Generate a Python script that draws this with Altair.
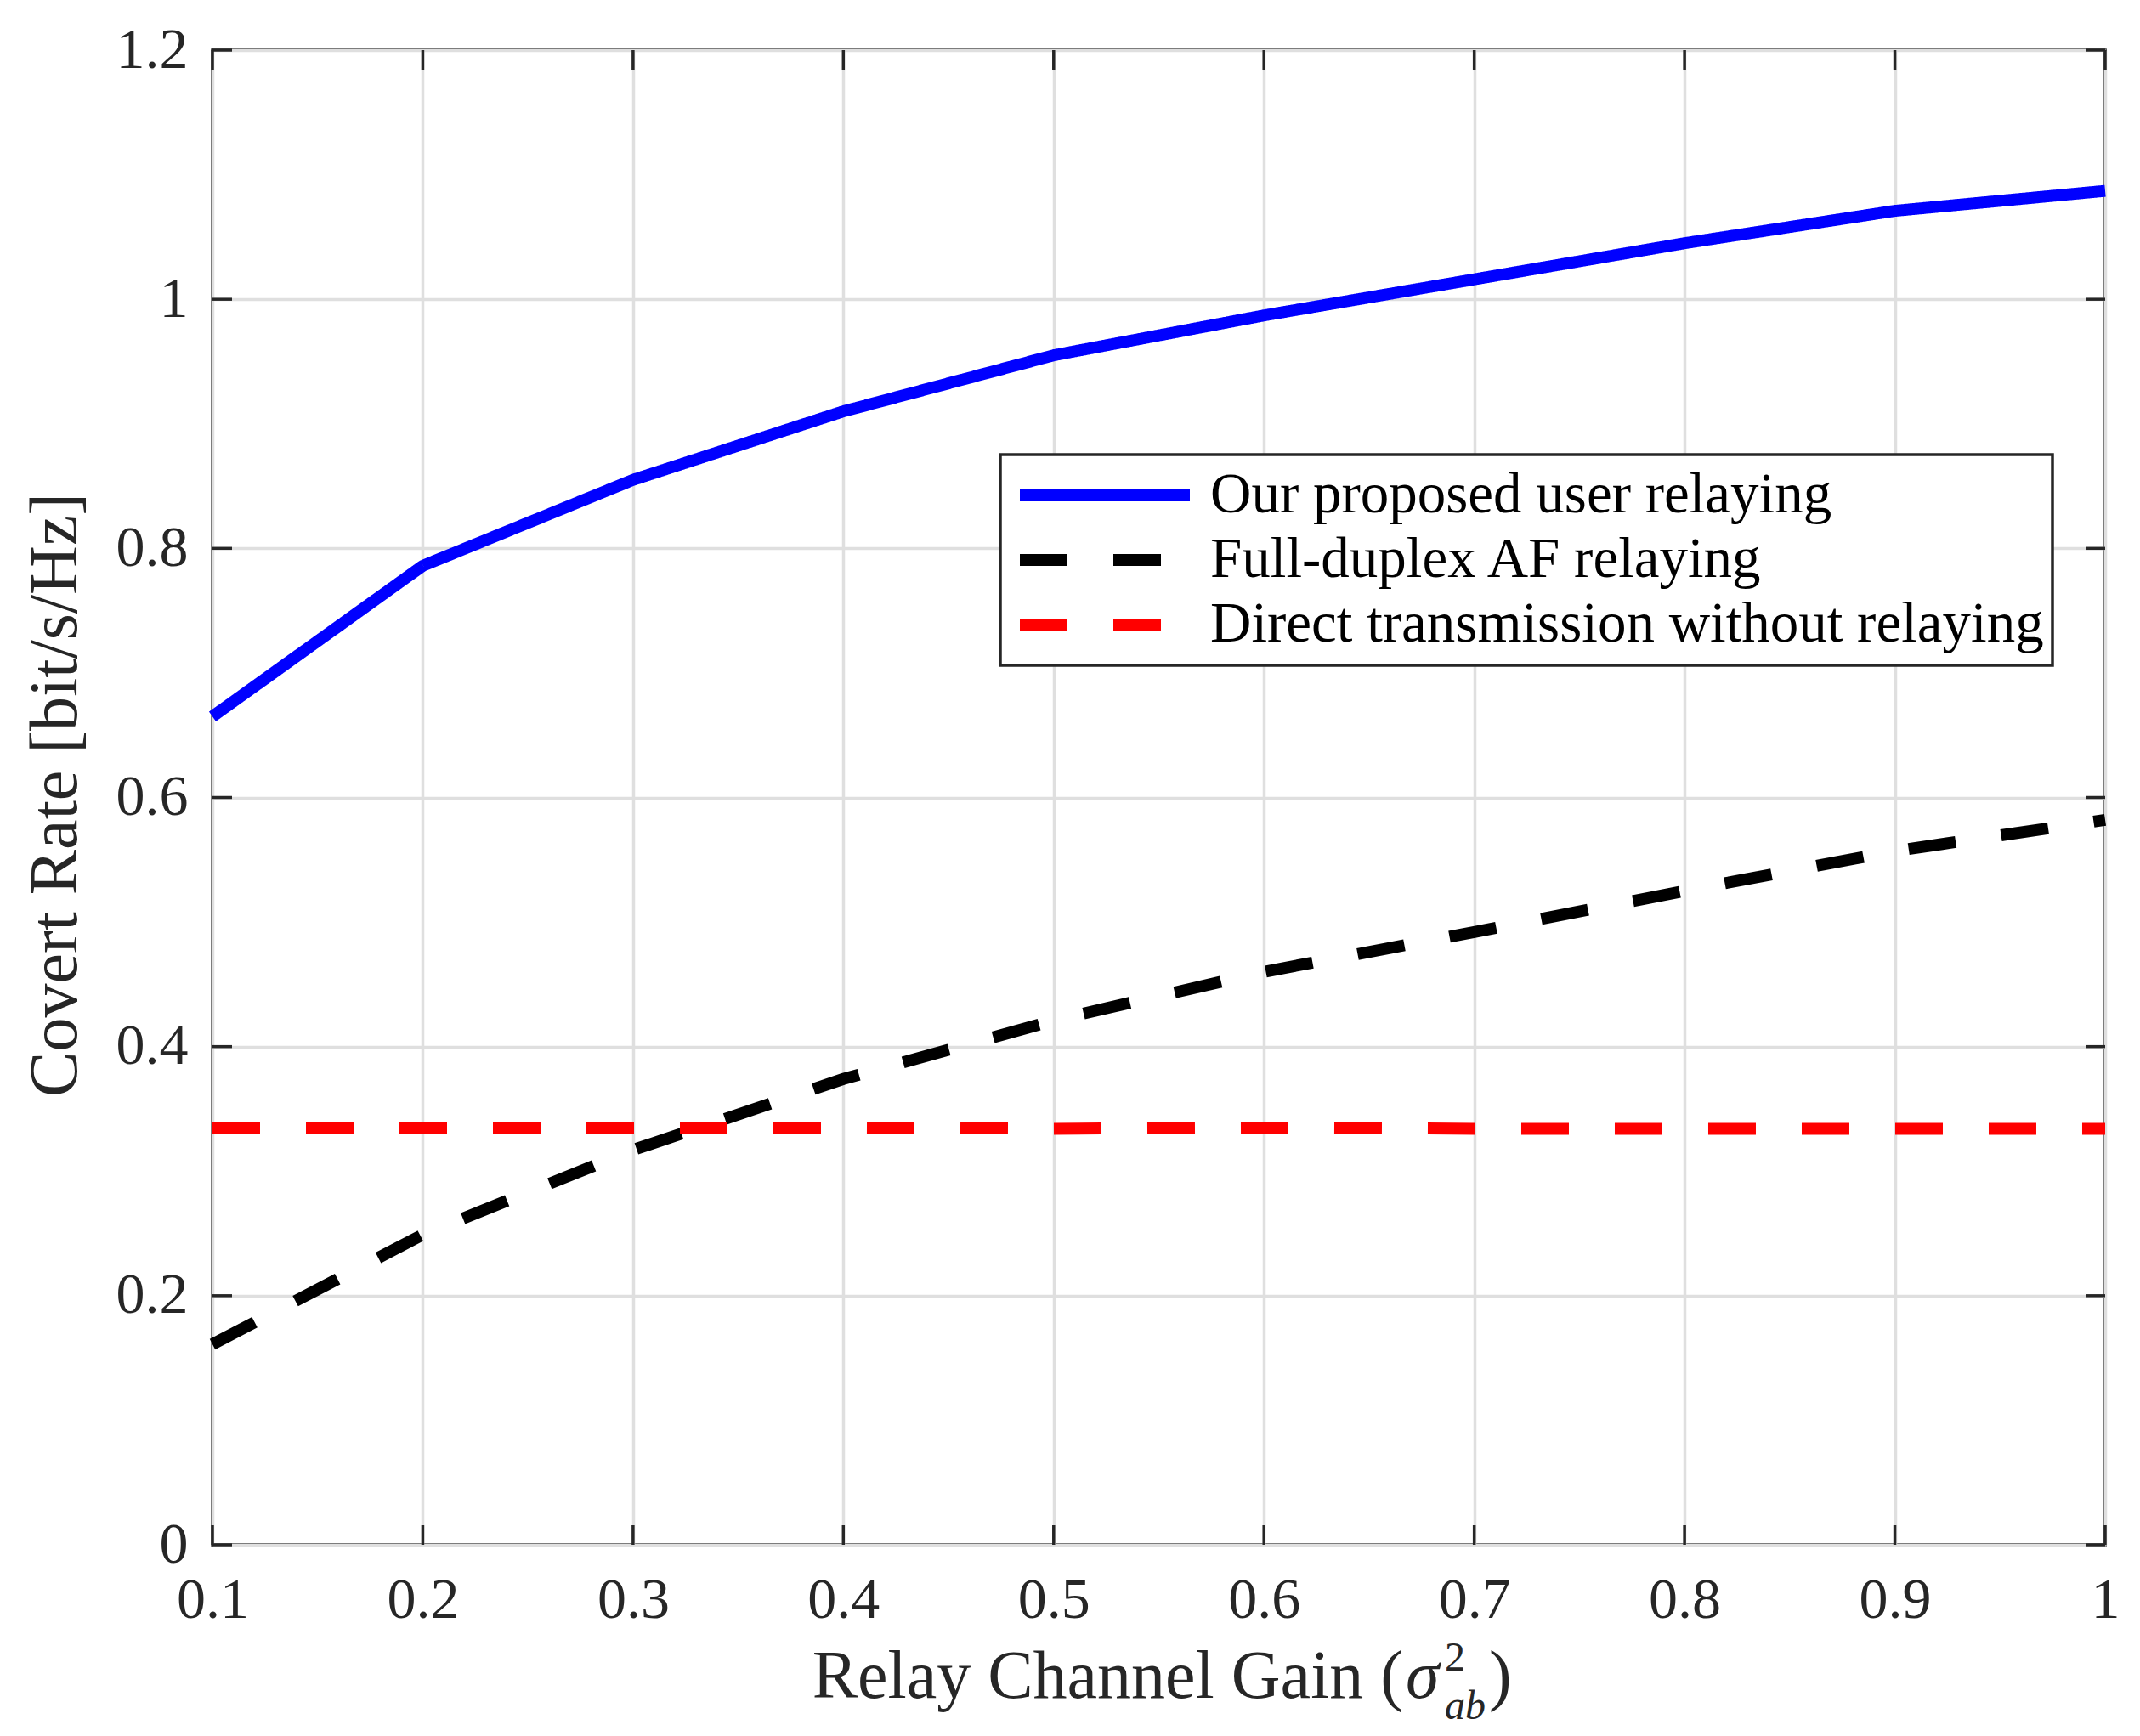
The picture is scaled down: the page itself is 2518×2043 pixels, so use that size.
import altair as alt
import pandas as pd

# ---- data ----
gains = [0.1, 0.2, 0.3, 0.4, 0.5, 0.6, 0.7, 0.8, 0.9, 1.0]
proposed = [0.665, 0.786, 0.855, 0.910, 0.955, 0.987, 1.016, 1.045, 1.071, 1.087]
full_duplex = [0.161, 0.249, 0.317, 0.374, 0.421, 0.460, 0.492, 0.525, 0.557, 0.582]
direct = [0.335, 0.335, 0.335, 0.335, 0.334, 0.335, 0.334, 0.334, 0.334, 0.334]

series_names = [
    "Our proposed user relaying",
    "Full-duplex AF relaying",
    "Direct transmission without relaying",
]
x_ticks = [0.1, 0.2, 0.3, 0.4, 0.5, 0.6, 0.7, 0.8, 0.9, 1.0]
y_ticks = [0, 0.2, 0.4, 0.6, 0.8, 1.0, 1.2]

rows = []
for name, vals in zip(series_names, [proposed, full_duplex, direct]):
    for g, v in zip(gains, vals):
        rows.append({"gain": g, "rate": v, "series": name})
df = pd.DataFrame(rows)

W, H = 2227, 1759
TICK = 23
AX = "#262626"
FONT = "Liberation Serif"

xscale = alt.Scale(domain=[0.1, 1.0], nice=False, zero=False)
yscale = alt.Scale(domain=[0, 1.2], nice=False, zero=False)

lines = alt.Chart(df).mark_line(strokeWidth=14, strokeCap="butt").encode(
    x=alt.X("gain:Q", scale=xscale,
            axis=alt.Axis(values=x_ticks, format="~g", title=None, labelPadding=31)),
    y=alt.Y("rate:Q", scale=yscale,
            axis=alt.Axis(values=y_ticks, format="~g", title="Covert Rate [bit/s/Hz]",
                          labelPadding=29, titleX=-161, titleY=876,
                          titleAngle=270, titleAlign="center", titleBaseline="alphabetic")),
    color=alt.Color("series:N", title=None,
                    scale=alt.Scale(domain=series_names, range=["#0000ff", "#000000", "#ff0000"])),
    strokeDash=alt.StrokeDash("series:N", title=None,
                              scale=alt.Scale(domain=series_names, range=[[1, 0], [56, 54], [56, 54]])),
)

ydf = pd.DataFrame({"rate": y_ticks})
xdf = pd.DataFrame({"gain": x_ticks})

tick_style = dict(color=AX, strokeWidth=3.5)
left_ticks = alt.Chart(ydf).mark_rule(**tick_style).encode(
    y="rate:Q", x=alt.value(0), x2=alt.value(TICK))
right_ticks = alt.Chart(ydf).mark_rule(**tick_style).encode(
    y="rate:Q", x=alt.value(W - TICK), x2=alt.value(W))
bottom_ticks = alt.Chart(xdf).mark_rule(**tick_style).encode(
    x="gain:Q", y=alt.value(H - TICK), y2=alt.value(H))
top_ticks = alt.Chart(xdf).mark_rule(**tick_style).encode(
    x="gain:Q", y=alt.value(0), y2=alt.value(TICK))

# ---- x-axis title with super/subscripts ----
def txt(s, x, y, size, align="left", style="normal"):
    return alt.Chart(pd.DataFrame({"t": [s]})).mark_text(
        font=FONT, fontSize=size, align=align, baseline="alphabetic",
        fontStyle=style, color=AX,
    ).encode(text="t:N", x=alt.value(x), y=alt.value(y))

title_main = txt("Relay Channel Gain (", 1401, 1939, 80, align="right")
title_sigma = txt("σ", 1404, 1939, 80, style="italic")
title_sup = txt("2", 1450, 1907, 48)
title_sub = txt("ab", 1450, 1964, 48, style="italic")
title_close = txt(")", 1502, 1939, 80)

chart = alt.layer(
    lines, left_ticks, right_ticks, bottom_ticks, top_ticks,
    title_main, title_sigma, title_sup, title_sub, title_close,
).properties(
    width=W, height=H,
    padding={"left": 242, "top": 51, "right": 30, "bottom": 220},
    autosize=alt.AutoSizeParams(type="none"),
    background="white",
).configure_view(
    stroke=AX, strokeWidth=3.5
).configure_axis(
    domain=False, ticks=False, tickSize=0, labelFlush=False,
    grid=True, gridColor="#dfdfdf", gridWidth=3.5, gridOpacity=1,
    labelFont=FONT, labelFontSize=68, labelColor=AX,
    titleFont=FONT, titleFontSize=80, titleColor=AX, titleFontWeight="normal",
).configure_legend(
    orient="none", legendX=927, legendY=476,
    symbolType="stroke", symbolSize=40000, symbolStrokeWidth=14,
    symbolOffset=6, labelOffset=17, clipHeight=76, rowPadding=0,
    labelFont=FONT, labelFontSize=67, labelColor="#000000", labelLimit=3000,
    strokeColor=AX, strokeWidth=3.5, fillColor="white", padding=10,
)

chart.save("out.html", embed_options={"renderer": "svg", "actions": False})
